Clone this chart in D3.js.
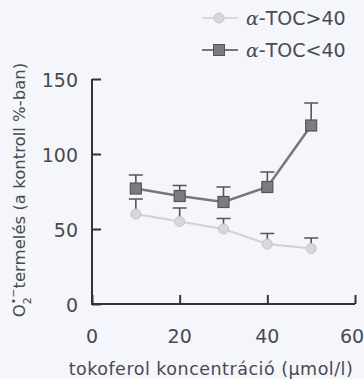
<!DOCTYPE html>
<html>
<head>
<meta charset="utf-8">
<script src="https://cdn.jsdelivr.net/npm/d3@7"></script>
<style>
  body { margin: 0; background: #f4f6fb; }
  svg { display: block; font-family: "DejaVu Sans", sans-serif; }
</style>
</head>
<body>
<svg id="chart" width="364" height="379"></svg>
<script>
const W = 364, H = 379;

const conc = [10, 20, 30, 40, 50];
const tocHigh = [60, 55, 50, 40, 37];      // α-TOC>40
const tocHighErr = [10, 9, 7, 7, 7];
const tocLow = [77, 72, 68, 78, 119];      // α-TOC<40
const tocLowErr = [9, 7, 10, 10, 15];
const xTicks = [0, 20, 40, 60];
const yTicks = [0, 50, 100, 150];

const svg = d3.select("#chart");

const x = d3.scaleLinear().domain([0, 60]).range([92, 355]);
const y = d3.scaleLinear().domain([0, 150]).range([304, 79]);

const ink = "#4a4a4e";

// axes
const yAxis = svg.append("g")
    .attr("transform", "translate(92,0)")
    .call(d3.axisRight(y).tickValues(yTicks).tickSize(9).tickFormat(""));
const xAxis = svg.append("g")
    .attr("transform", "translate(0,304)")
    .call(d3.axisTop(x).tickValues(xTicks).tickSize(9).tickFormat(""));
[yAxis, xAxis].forEach(a => {
    a.select(".domain").remove();
    a.selectAll("line").attr("stroke", "#333").attr("stroke-width", 2);
});
svg.append("path")
    .attr("d", `M${x(0)},${y(150)}V${y(0)}H${x(60)}`)
    .attr("fill", "none").attr("stroke", "#333").attr("stroke-width", 2);

// tick labels
svg.append("g").selectAll("text").data(yTicks).enter().append("text")
    .attr("x", 78).attr("y", d => y(d) + 1)
    .attr("text-anchor", "end").attr("dominant-baseline", "central")
    .attr("font-size", 19).attr("fill", ink).text(d => d);
svg.append("g").selectAll("text").data(xTicks).enter().append("text")
    .attr("x", d => x(d) - (d === 60 ? 3 : 0)).attr("y", 343)
    .attr("text-anchor", "middle")
    .attr("font-size", 19).attr("fill", ink).text(d => d);

// axis titles
svg.append("text").attr("x", 211).attr("y", 375)
    .attr("text-anchor", "middle").attr("font-size", 17.5).attr("fill", ink)
    .attr("letter-spacing", 0.5)
    .text("tokoferol koncentráció (µmol/l)");

const yt = svg.append("text")
    .attr("transform", "translate(25,190) rotate(-90)")
    .attr("text-anchor", "middle").attr("font-size", 16.5).attr("fill", ink);
yt.append("tspan").text("O");
yt.append("tspan").attr("font-size", 11).attr("dy", 6).text("2");
yt.append("tspan").attr("font-size", 11).attr("dy", -14).attr("dx", -7).text("•−");
yt.append("tspan").attr("dy", 8).text("termelés (a kontroll %-ban)");

// series
function drawSeries(vals, errs, lineColor, lineWidth, marker) {
    const pts = conc.map((c, i) => ({c, v: vals[i], e: errs[i]}));
    const g = svg.append("g");
    g.selectAll(".err").data(pts).enter().append("path")
        .attr("d", d => `M${x(d.c)},${y(d.v)}V${y(d.v + d.e)}M${x(d.c) - 7},${y(d.v + d.e)}H${x(d.c) + 7}`)
        .attr("stroke", "#555").attr("stroke-width", 1.6).attr("fill", "none");
    g.append("path").datum(pts)
        .attr("d", d3.line().x(d => x(d.c)).y(d => y(d.v)))
        .attr("fill", "none").attr("stroke", lineColor).attr("stroke-width", lineWidth);
    marker(g.selectAll(".m").data(pts).enter());
}

const circleMarker = sel => sel.append("circle")
    .attr("cx", d => x(d.c)).attr("cy", d => y(d.v)).attr("r", 5)
    .attr("fill", "#d6d8dc").attr("stroke", "#c2c4c8").attr("stroke-width", 1);
const squareMarker = sel => sel.append("rect")
    .attr("x", d => x(d.c) - 5.5).attr("y", d => y(d.v) - 5.5)
    .attr("width", 11).attr("height", 11)
    .attr("fill", "#7a7c80").attr("stroke", "#555").attr("stroke-width", 1.2);

drawSeries(tocHigh, tocHighErr, "#cfd1d5", 2, circleMarker);
drawSeries(tocLow, tocLowErr, "#75777b", 2.5, squareMarker);

// legend
const legend = [
    {label: "α-TOC>40", y: 18, color: "#cfd1d5", w: 1.5, m: "c"},
    {label: "α-TOC<40", y: 50, color: "#75777b", w: 2, m: "s"}
];
const lg = svg.append("g").selectAll("g").data(legend).enter().append("g");
lg.append("line").attr("x1", 202).attr("x2", 238).attr("y1", d => d.y).attr("y2", d => d.y)
    .attr("stroke", d => d.color).attr("stroke-width", d => d.w);
lg.filter(d => d.m === "c").append("circle").attr("cx", 219).attr("cy", d => d.y).attr("r", 5)
    .attr("fill", "#d6d8dc").attr("stroke", "#c2c4c8");
lg.filter(d => d.m === "s").append("rect").attr("x", 213.5).attr("y", d => d.y - 5.5)
    .attr("width", 11).attr("height", 11).attr("fill", "#7a7c80").attr("stroke", "#555");
const lt = lg.append("text").attr("x", 246).attr("y", d => d.y)
    .attr("dominant-baseline", "central").attr("font-size", 19).attr("fill", ink);
lt.append("tspan").attr("font-family", "DejaVu Serif").attr("font-style", "italic").text("α");
lt.append("tspan").text(d => d.label.slice(1));
</script>
</body>
</html>
